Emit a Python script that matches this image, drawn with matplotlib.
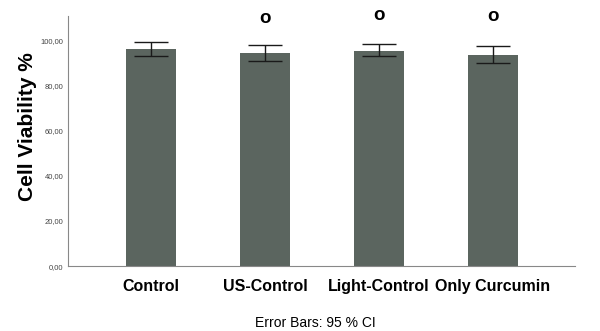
import matplotlib.pyplot as plt
import numpy as np

# data
groups = ['Control', 'US-Control', 'Light-Control', 'Only Curcumin']
means = [96.3, 94.5, 95.6, 93.8]
ci_low = [93.0, 91.2, 93.2, 90.1]
ci_high = [99.6, 97.9, 98.4, 97.6]
# bold "o" marks above some bars
mark_groups = ['US-Control', 'Light-Control', 'Only Curcumin']
mark_y = [109.9, 111.2, 110.8]
yticks = [0, 20, 40, 60, 80, 100]

plt.rcParams['font.family'] = ['Liberation Sans', 'DejaVu Sans']

fig = plt.figure(figsize=(6, 3.31), dpi=100)
ax = fig.add_axes([0.113, 0.196, 0.845, 0.756])

x = np.arange(len(groups))
m = np.array(means)
err = [m - np.array(ci_low), np.array(ci_high) - m]
ax.bar(x, m, width=0.44, color='#5b655f', zorder=2)
ax.errorbar(x, m, yerr=err, fmt='none', ecolor='#1a1a1a', elinewidth=1,
            capsize=12.5, capthick=1, zorder=3)

for g, yv in zip(mark_groups, mark_y):
    ax.text(groups.index(g), yv, 'o', ha='center', va='center',
            fontsize=13.5, fontweight='bold', clip_on=False)

ax.set_xlim(-0.73, 3.72)
ax.set_ylim(0, 111)
ax.set_xticks(x)
ax.set_xticklabels(groups, fontsize=11.5, fontweight='bold')
ax.set_yticks(yticks)
ax.set_yticklabels(['%d,00' % v for v in yticks], fontsize=5.5, color='#444444')
ax.tick_params(axis='both', length=0)
ax.tick_params(axis='x', pad=9)
ax.tick_params(axis='y', pad=3)

for s in ['top', 'right']:
    ax.spines[s].set_visible(False)
for s in ['left', 'bottom']:
    ax.spines[s].set_color('#888888')
    ax.spines[s].set_linewidth(0.8)

ax.set_ylabel('Cell Viability %', fontsize=15, fontweight='bold')
ax.yaxis.set_label_coords(-0.06, 0.556)

fig.text(0.525, 0.024, 'Error Bars: 95 % CI', ha='center', va='center', fontsize=10)

fig.savefig('out.png', dpi=100)
